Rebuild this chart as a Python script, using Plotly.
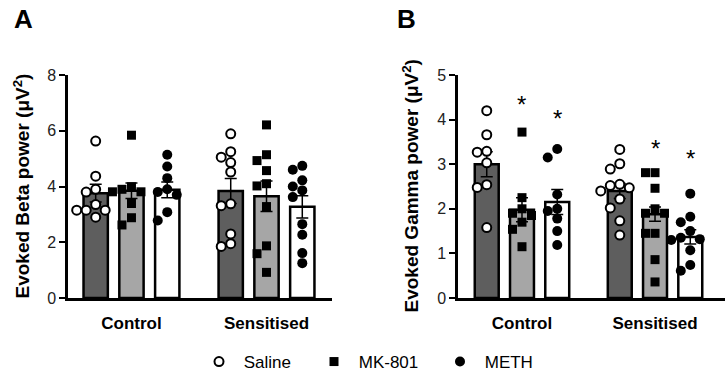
import numpy as np
import plotly.graph_objects as go

# ---------------- data ----------------
groups = ["Control", "Sensitised"]
series = ["Saline", "MK-801", "METH"]

# Panel A – Evoked Beta power (µV²), individual animals
beta_saline_control = [5.63, 4.37, 3.90, 3.80, 3.35, 3.15, 3.15, 3.15, 2.90]
beta_mk801_control = [5.84, 3.99, 3.90, 3.81, 3.81, 3.39, 2.88, 2.62]
beta_meth_control = [5.14, 4.72, 4.30, 3.90, 3.80, 3.70, 3.08, 2.78]
beta_saline_sens = [5.89, 5.25, 5.05, 4.86, 4.52, 3.38, 3.31, 2.30, 1.95, 1.85]
beta_mk801_sens = [6.21, 5.14, 4.93, 4.57, 4.10, 4.02, 3.28, 1.87, 1.59, 0.92]
beta_meth_sens = [4.74, 4.60, 4.22, 4.00, 3.86, 3.62, 2.65, 2.27, 1.61, 1.25]
# means / SEM  (Control, Sensitised)
beta_mean_saline = [3.76, 3.84]
beta_sem_saline = [0.32, 0.45]
beta_mean_mk801 = [3.85, 3.65]
beta_sem_mk801 = [0.28, 0.55]
beta_mean_meth = [3.88, 3.27]
beta_sem_meth = [0.28, 0.40]

# Panel B – Evoked Gamma power (µV²)
gamma_saline_control = [4.20, 3.66, 3.29, 3.27, 3.03, 2.54, 2.48, 1.58]
gamma_mk801_control = [3.72, 2.25, 2.00, 1.90, 1.85, 1.70, 1.54, 1.15]
gamma_meth_control = [3.34, 3.15, 2.32, 2.00, 1.95, 1.78, 1.50, 1.19]
gamma_saline_sens = [3.33, 3.01, 2.89, 2.55, 2.52, 2.47, 2.40, 2.22, 2.02, 1.73, 1.41]
gamma_mk801_sens = [2.81, 2.81, 2.46, 2.00, 1.90, 1.90, 1.45, 1.45, 0.86, 0.36]
gamma_meth_sens = [2.34, 1.82, 1.70, 1.50, 1.35, 1.32, 1.30, 1.07, 0.74, 0.61]
gamma_mean_saline = [3.00, 2.40]
gamma_sem_saline = [0.28, 0.17]
gamma_mean_mk801 = [1.98, 1.88]
gamma_sem_mk801 = [0.27, 0.16]
gamma_mean_meth = [2.15, 1.37]
gamma_sem_meth = [0.28, 0.16]
# significance asterisk heights (Control, Sensitised)
gamma_sig_mk801 = [4.44, 3.46]
gamma_sig_meth = [4.14, 3.24]

beta_ticks = [0, 2, 4, 6, 8]
gamma_ticks = [0, 1, 2, 3, 4, 5]

# ---------------- layout constants ----------------
W, H = 726, 373
TOP, BOTTOM = 75, 298          # plot-area pixel rows
PH = BOTTOM - TOP
FONT = "Liberation Sans, Arial, sans-serif"
SPACING = 0.265
BAR_W = 0.18

fills = {"Saline": "#5e5e5e", "MK-801": "#a6a6a6", "METH": "#ffffff"}
markers = {
    "Saline": dict(symbol="circle", size=9, color="white", line=dict(color="black", width=2)),
    "MK-801": dict(symbol="square", size=9, color="black", line=dict(color="black", width=0)),
    "METH": dict(symbol="circle", size=10, color="black", line=dict(color="black", width=0)),
}
legend_ids = {"Saline": "legend", "MK-801": "legend2", "METH": "legend3"}
legend_x = {"Saline": 199, "MK-801": 314, "METH": 440}


def swarm(vals, ppu_y, ppu_x, diam=10.0, step=9.5):
    """Simple beeswarm: horizontal offsets (data units) avoiding overlaps."""
    placed, offs = [], []
    cands = [0.0]
    for k in range(1, 5):
        cands += [-k * step, k * step]
    for v in vals:
        y = v * ppu_y
        chosen = cands[-1]
        for c in cands:
            if all(np.hypot(c - px, y - py) >= diam * 0.9 for px, py in placed):
                chosen = c
                break
        placed.append((chosen, y))
        offs.append(chosen / ppu_x)
    return offs


panels = [
    dict(xa="x", ya="y", dom=(68, 332), rng=(-0.47, 1.485), yr=(0, 8), ppu_x=135.0,
         pts={"Saline": [beta_saline_control, beta_saline_sens],
              "MK-801": [beta_mk801_control, beta_mk801_sens],
              "METH": [beta_meth_control, beta_meth_sens]},
         mean={"Saline": beta_mean_saline, "MK-801": beta_mean_mk801, "METH": beta_mean_meth},
         sem={"Saline": beta_sem_saline, "MK-801": beta_sem_mk801, "METH": beta_sem_meth}),
    dict(xa="x2", ya="y2", dom=(458, 725), rng=(-0.481, 1.526), yr=(0, 5), ppu_x=133.0,
         pts={"Saline": [gamma_saline_control, gamma_saline_sens],
              "MK-801": [gamma_mk801_control, gamma_mk801_sens],
              "METH": [gamma_meth_control, gamma_meth_sens]},
         mean={"Saline": gamma_mean_saline, "MK-801": gamma_mean_mk801, "METH": gamma_mean_meth},
         sem={"Saline": gamma_sem_saline, "MK-801": gamma_sem_mk801, "METH": gamma_sem_meth}),
]

fig = go.Figure()
gidx = np.arange(len(groups))

for pi, p in enumerate(panels):
    ppu_y = PH / (p["yr"][1] - p["yr"][0])
    for k, s in enumerate(series):
        xs = gidx + (k - 1) * SPACING
        fig.add_trace(go.Bar(
            x=xs, y=p["mean"][s], width=BAR_W, xaxis=p["xa"], yaxis=p["ya"],
            marker=dict(color=fills[s], line=dict(color="black", width=2.5)),
            error_y=dict(type="data", array=p["sem"][s], color="black", thickness=1.5, width=6),
            showlegend=False, hoverinfo="skip"))
    for k, s in enumerate(series):
        xs = gidx + (k - 1) * SPACING
        px, py = [], []
        for g in range(len(groups)):
            vals = p["pts"][s][g]
            offs = swarm(vals, ppu_y, p["ppu_x"])
            px += [xs[g] + o for o in offs]
            py += list(vals)
        fig.add_trace(go.Scatter(
            x=px, y=py, mode="markers", xaxis=p["xa"], yaxis=p["ya"], name="\u00a0" + s,
            marker=markers[s], showlegend=(pi == 0), legend=legend_ids[s],
            hoverinfo="skip"))

axis_common = dict(showline=True, linewidth=2.5, linecolor="black", showgrid=False,
                   zeroline=False, fixedrange=True, automargin=False)

layout = dict(
    width=W, height=H,
    margin=dict(l=0, r=0, t=TOP, b=H - BOTTOM, pad=0, autoexpand=False),
    paper_bgcolor="white", plot_bgcolor="white", barmode="overlay",
    font=dict(family=FONT, color="black"),
)
for s in series:
    layout[legend_ids[s]] = dict(
        orientation="h", x=legend_x[s] / W, xanchor="left", xref="container",
        y=(H - 362) / H, yanchor="middle", yref="container",
        font=dict(size=17, family=FONT), bgcolor="rgba(0,0,0,0)")

for pi, p in enumerate(panels):
    sfx = "" if pi == 0 else "2"
    layout["xaxis" + sfx] = dict(
        axis_common, domain=[p["dom"][0] / W, p["dom"][1] / W], range=list(p["rng"]),
        anchor="y" + sfx, tickvals=list(gidx), ticktext=["<b>%s</b>" % g for g in groups],
        ticks="", ticklabelstandoff=8, tickfont=dict(size=17, family=FONT, color="black"))
    ticks = beta_ticks if pi == 0 else gamma_ticks
    layout["yaxis" + sfx] = dict(
        axis_common, range=list(p["yr"]), anchor="x" + sfx, tickvals=ticks,
        ticks="outside", ticklen=6, tickwidth=2, tickcolor="black",
        tickfont=dict(size=16, family=FONT, color="#222222"))
fig.update_layout(**layout)

ann = []
for letter, lx in (("A", 23), ("B", 407)):
    ann.append(dict(text="<b>%s</b>" % letter, x=lx / W, y=(BOTTOM - 19) / PH,
                    xref="paper", yref="paper", xanchor="center", yanchor="middle",
                    showarrow=False, font=dict(size=26, family=FONT)))
for title, tx in (("Evoked Beta power", 21), ("Evoked Gamma power", 410)):
    ann.append(dict(text="<b>%s (μV<sup>2</sup>)</b>" % title, x=tx / W, y=0.5,
                    xref="paper", yref="paper", xanchor="center", yanchor="middle",
                    textangle=-90, showarrow=False, font=dict(size=19, family=FONT)))
for k, sig in ((1, gamma_sig_mk801), (2, gamma_sig_meth)):
    for g in range(len(groups)):
        ann.append(dict(text="*", x=gidx[g] + (k - 1) * SPACING, y=sig[g], xref="x2", yref="y2",
                        showarrow=False, yshift=-5, font=dict(size=24, family=FONT)))
fig.update_layout(annotations=ann)

fig.write_html("out.html", config={"displayModeBar": False},
               post_script="document.body.style.margin='0';document.body.style.padding='0';")
